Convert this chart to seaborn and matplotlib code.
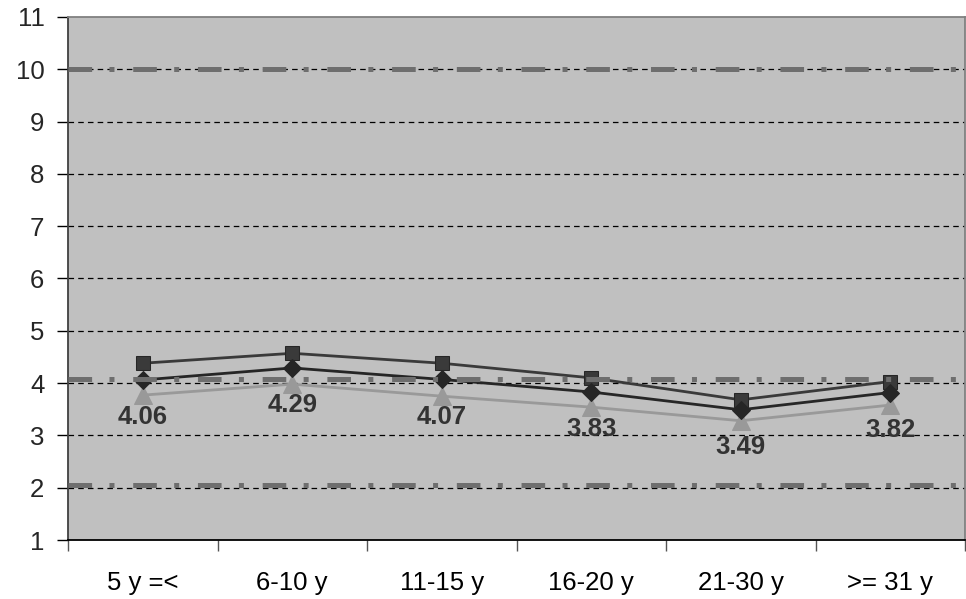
import matplotlib
matplotlib.use("Agg")
import matplotlib.pyplot as plt
import seaborn as sns
import pandas as pd
import numpy as np

categories = ["5 y =<", "6-10 y", "11-15 y", "16-20 y", "21-30 y", ">= 31 y"]
square_vals = [4.38, 4.57, 4.38, 4.10, 3.68, 4.03]
diamond_vals = [4.06, 4.29, 4.07, 3.83, 3.49, 3.82]
triangle_vals = [3.77, 3.98, 3.75, 3.54, 3.28, 3.58]
ref_lines = [10.0, 4.08, 2.06]
y_ticks = list(range(1, 12))

sns.set_theme(style="white")
plt.rcParams["font.family"] = ["Liberation Sans", "DejaVu Sans"]
plt.rcParams["lines.scale_dashes"] = False

fig = plt.figure(figsize=(9.66, 5.99), dpi=100)
ax = fig.add_axes([68 / 966, 1 - 540 / 599, 897 / 966, 523 / 599])
ax.set_facecolor("#c0c0c0")

idx = np.arange(len(categories))
df = pd.DataFrame({
    "x": np.concatenate([idx, idx, idx]),
    "y": triangle_vals + diamond_vals + square_vals,
    "s": ["tri"] * 6 + ["dia"] * 6 + ["sq"] * 6,
})

# grid lines
for v in y_ticks[1:-1]:
    ax.axhline(v, color="black", lw=0.9, linestyle=(0, (4, 3)), zorder=1)

styles = {
    "tri": dict(color="#999999", marker="^", ms=13, mec="#999999"),
    "dia": dict(color="#262626", marker="D", ms=9, mec="#262626"),
    "sq": dict(color="#3a3a3a", marker="s", ms=10, mec="#262626"),
}
for key, z in [("sq", 3), ("dia", 4), ("tri", 2)]:
    sub = df[df["s"] == key]
    st = styles[key]
    sns.lineplot(data=sub, x="x", y="y", ax=ax, color=st["color"], lw=2,
                 marker=st["marker"], markersize=st["ms"],
                 markeredgecolor=st["mec"], markerfacecolor=st["color"],
                 zorder=z, legend=False)

for v in ref_lines:
    ax.axhline(v, color="#6e6e6e", lw=3.6,
               linestyle=(0, (17, 12.5, 3.6, 13.5)), zorder=5)

for i, v in enumerate(diamond_vals):
    ax.annotate(f"{v:.2f}", (i, v), xytext=(0, -27), textcoords="offset points",
                ha="center", va="center", fontsize=18.5, fontweight="bold",
                color="#333333", zorder=6)

ax.set_xlim(-0.5, len(categories) - 0.5)
ax.set_ylim(1, 11)
ax.set_yticks(y_ticks)
ax.set_yticklabels([str(t) for t in y_ticks], fontsize=18.5)
ax.set_xticks(idx)
ax.set_xticklabels(categories, fontsize=18.5)
ax.set_xticks(np.arange(-0.5, len(categories)), minor=True)
ax.tick_params(axis="x", which="major", length=0, pad=22, colors="black")
ax.tick_params(axis="x", which="minor", length=8, width=1, color="#555555", direction="out", bottom=True)
ax.tick_params(axis="y", length=8, width=1, color="black", direction="out", left=True, pad=9)
ax.set_xlabel("")
ax.set_ylabel("")

ax.spines["left"].set_color("#404040")
ax.spines["left"].set_linewidth(1.3)
ax.spines["bottom"].set_color("black")
ax.spines["bottom"].set_linewidth(1.3)
ax.spines["top"].set_color("#808080")
ax.spines["top"].set_linewidth(1.3)
ax.spines["right"].set_color("#808080")
ax.spines["right"].set_linewidth(1.3)

fig.savefig("out.png", dpi=100)
